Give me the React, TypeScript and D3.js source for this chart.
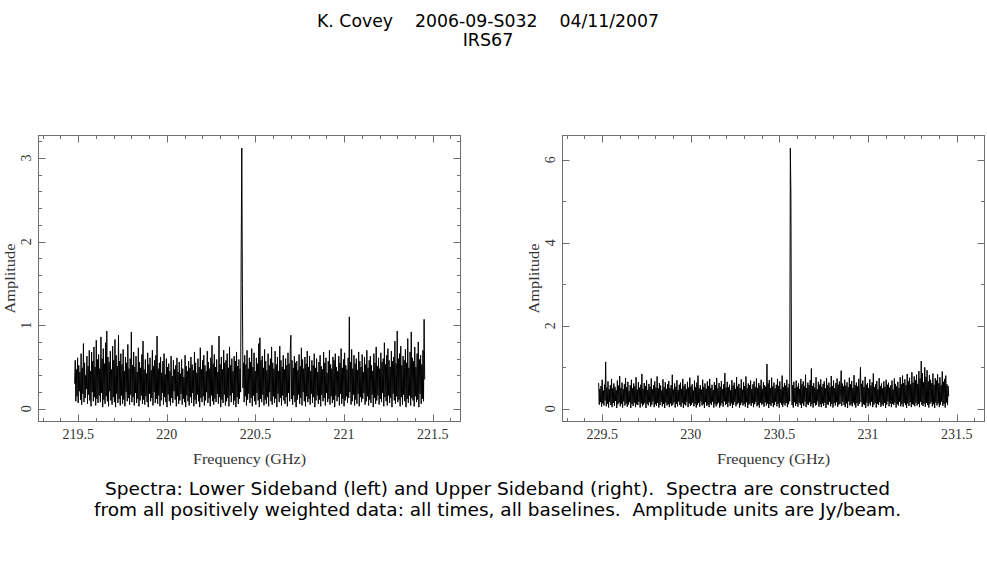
import React from 'react';
import * as d3 from 'd3';

// Amplitudes in hundredths of Jy/beam, one per channel, low to high frequency
const lsbAmp = [
  30, 58, 9, 47, 15, 61, 7, 52, 21, 44, 11, 66, 5, 49, 18, 78, 8, 55, 13, 40,
  24, 63, 6, 51, 17, 70, 10, 45, 3, 68, 20, 57, 9, 74, 14, 50, 4, 82, 12, 59,
  7, 65, 16, 48, 8, 86, 19, 60, 2, 72, 11, 54, 6, 79, 15, 93, 9, 62, 3, 56,
  21, 69, 10, 47, 5, 75, 14, 58, 8, 83, 2, 64, 18, 51, 7, 88, 12, 57, 4, 66,
  16, 53, 6, 71, 11, 45, 3, 62, 20, 55, 9, 77, 13, 48, 5, 60, 17, 92, 8, 52,
  14, 68, 4, 50, 19, 63, 7, 44, 12, 73, 3, 56, 10, 49, 16, 65, 6, 81, 11, 47,
  5, 59, 15, 42, 8, 67, 2, 53, 18, 61, 9, 46, 13, 70, 4, 51, 20, 58, 7, 64,
  12, 87, 6, 48, 16, 55, 3, 62, 10, 43, 19, 57, 5, 66, 14, 41, 8, 60, 2, 50,
  17, 54, 9, 45, 4, 63, 13, 39, 7, 58, 21, 47, 11, 52, 3, 61, 15, 44, 6, 56,
  10, 42, 18, 59, 5, 48, 12, 38, 8, 64, 2, 51, 16, 45, 9, 57, 4, 49, 14, 62,
  7, 53, 19, 46, 3, 68, 11, 55, 6, 43, 17, 60, 9, 50, 2, 73, 13, 47, 8, 58,
  15, 64, 4, 52, 10, 45, 20, 69, 7, 56, 13, 48, 3, 61, 16, 76, 9, 54, 5, 65,
  12, 50, 8, 59, 18, 44, 6, 87, 14, 53, 2, 62, 11, 47, 7, 70, 17, 55, 4, 58,
  9, 66, 13, 49, 3, 74, 16, 52, 8, 60, 19, 45, 5, 63, 10, 57, 2, 68, 14, 51,
  6, 59, 12, 48, 20, 192, 312, 149, 25, 55, 8, 64, 15, 53, 4, 70, 11, 48, 18, 61,
  7, 56, 13, 72, 3, 50, 16, 67, 9, 45, 5, 61, 19, 54, 10, 78, 2, 85, 12, 58,
  8, 63, 17, 49, 4, 71, 11, 57, 6, 46, 14, 66, 3, 52, 20, 60, 9, 74, 5, 55,
  15, 48, 7, 69, 12, 53, 2, 62, 18, 45, 8, 75, 13, 58, 4, 50, 16, 64, 10, 47,
  6, 60, 14, 52, 3, 67, 19, 54, 9, 71, 88, 12, 58, 5, 49, 16, 63, 8, 55, 2,
  57, 11, 46, 17, 65, 6, 51, 13, 73, 4, 59, 20, 48, 9, 62, 3, 54, 15, 69, 8,
  50, 12, 63, 5, 45, 18, 58, 7, 52, 14, 66, 2, 49, 10, 60, 16, 44, 6, 56, 11,
  64, 3, 51, 17, 47, 9, 68, 13, 55, 4, 61, 19, 43, 8, 57, 12, 70, 5, 53, 15,
  48, 7, 62, 11, 58, 2, 66, 16, 50, 9, 45, 14, 63, 4, 55, 18, 72, 6, 49, 12,
  59, 3, 67, 10, 52, 15, 47, 7, 61, 13, 110, 20, 56, 5, 71, 9, 48, 17, 64, 4,
  54, 11, 60, 6, 46, 18, 68, 3, 57, 14, 50, 8, 65, 12, 44, 19, 62, 5, 53, 9,
  70, 15, 49, 4, 58, 11, 63, 7, 52, 17, 45, 2, 66, 13, 55, 6, 74, 10, 51, 16,
  61, 5, 48, 12, 67, 8, 56, 19, 60, 3, 79, 14, 53, 9, 64, 4, 72, 16, 58, 7,
  50, 13, 69, 2, 57, 18, 62, 10, 81, 6, 54, 15, 93, 8, 60, 11, 66, 3, 75, 14,
  52, 5, 63, 17, 58, 9, 71, 2, 55, 12, 84, 7, 49, 16, 68, 4, 92, 13, 61, 10,
  57, 3, 74, 15, 50, 8, 66, 11, 80, 2, 59, 18, 64, 6, 53, 12, 70, 9, 107, 35,
];

const usbAmp = [
  62, 10, 48, 16, 55, 5, 70, 13, 44, 8, 58, 20, 113, 6, 51, 12, 66, 3, 47, 17,
  57, 9, 72, 4, 49, 14, 61, 7, 53, 19, 45, 2, 68, 11, 56, 15, 79, 6, 50, 12,
  63, 3, 47, 18, 59, 8, 74, 13, 52, 5, 65, 10, 43, 16, 57, 2, 70, 12, 49, 7,
  61, 15, 54, 4, 76, 11, 46, 9, 64, 17, 51, 3, 58, 13, 84, 6, 48, 10, 62, 14,
  55, 2, 69, 12, 45, 8, 60, 16, 53, 5, 73, 10, 47, 18, 57, 4, 66, 11, 51, 7,
  78, 14, 49, 3, 62, 9, 56, 17, 44, 6, 71, 12, 52, 2, 64, 15, 48, 8, 59, 11,
  67, 4, 50, 13, 57, 7, 82, 10, 46, 16, 61, 3, 53, 12, 69, 6, 45, 18, 58, 9,
  63, 5, 48, 14, 72, 2, 55, 11, 60, 8, 47, 17, 65, 4, 51, 13, 75, 7, 54, 10,
  59, 15, 44, 6, 68, 12, 52, 3, 63, 9, 80, 14, 49, 5, 57, 18, 46, 8, 70, 11,
  53, 2, 61, 16, 48, 7, 66, 10, 55, 4, 72, 13, 50, 9, 58, 17, 45, 3, 64, 12,
  57, 6, 74, 11, 49, 15, 62, 3, 53, 8, 67, 14, 47, 5, 59, 18, 86, 9, 51, 12,
  65, 4, 52, 16, 58, 7, 45, 13, 69, 2, 56, 10, 63, 17, 48, 6, 76, 11, 54, 14,
  60, 3, 50, 9, 71, 15, 46, 8, 64, 12, 55, 5, 78, 16, 49, 2, 61, 10, 57, 13,
  68, 7, 47, 14, 59, 4, 66, 11, 52, 17, 73, 6, 50, 9, 62, 3, 56, 15, 70, 10,
  48, 12, 64, 5, 57, 16, 53, 8, 108, 13, 61, 2, 69, 11, 50, 7, 75, 14, 54, 4,
  63, 9, 49, 17, 58, 6, 72, 12, 55, 3, 66, 15, 47, 10, 80, 5, 52, 13, 62, 8,
  56, 14, 70, 4, 51, 11, 60, 18, 628, 512, 74, 9, 57, 3, 65, 16, 50, 7, 68, 12,
  53, 5, 61, 15, 48, 10, 72, 2, 59, 13, 66, 7, 54, 17, 82, 4, 50, 11, 63, 9,
  57, 16, 69, 6, 97, 12, 55, 3, 62, 14, 51, 8, 76, 10, 47, 18, 65, 5, 58, 11,
  71, 4, 53, 13, 60, 7, 66, 15, 49, 2, 74, 11, 57, 9, 63, 17, 52, 6, 79, 12,
  55, 3, 68, 14, 50, 8, 62, 16, 73, 5, 58, 10, 66, 12, 48, 92, 7, 61, 17, 54,
  9, 70, 4, 56, 13, 64, 2, 52, 18, 75, 8, 59, 11, 67, 6, 50, 15, 81, 10, 57,
  3, 63, 14, 54, 7, 72, 12, 48, 100, 16, 60, 5, 68, 11, 53, 9, 77, 2, 58, 15,
  62, 6, 50, 13, 71, 8, 56, 17, 64, 4, 85, 10, 52, 14, 59, 3, 67, 12, 47, 9,
  74, 16, 55, 5, 61, 11, 49, 7, 66, 14, 53, 2, 70, 10, 58, 18, 63, 6, 51, 13,
  57, 4, 68, 12, 46, 9, 73, 15, 60, 3, 54, 11, 65, 8, 50, 17, 76, 6, 59, 12,
  80, 5, 62, 14, 71, 9, 57, 2, 84, 13, 66, 7, 75, 16, 59, 4, 88, 11, 63, 10,
  78, 6, 69, 15, 82, 8, 60, 12, 91, 4, 73, 17, 115, 10, 86, 7, 64, 13, 100, 5,
  77, 14, 93, 9, 66, 3, 81, 12, 70, 16, 62, 6, 85, 11, 58, 2, 74, 15, 68, 8,
  83, 13, 61, 4, 76, 10, 57, 17, 90, 7, 65, 12, 72, 3, 80, 15, 59, 9, 55, 30,
];

// first / last channel frequency (GHz)
const lsbBand = [219.48, 221.455];
const usbBand = [229.48, 231.455];

const titleLines = ['K. Covey    2006-09-S032    04/11/2007', 'IRS67'];
const captionLines = [
  'Spectra: Lower Sideband (left) and Upper Sideband (right).  Spectra are constructed',
  'from all positively weighted data: all times, all baselines.  Amplitude units are Jy/beam.',
];

const W = 987;
const H = 567;

interface PanelProps {
  amp: number[];
  band: number[];
  xDomain: [number, number];
  yDomain: [number, number];
  left: number;
  yMajor: number;
  yMinor: number;
}

const frame = { width: 422, top: 135.5, bottom: 421.5 };
const axisColor = '#6e6e6e';
const labelFont = '"Liberation Serif", "DejaVu Serif", serif';

const Panel: React.FC<PanelProps> = ({ amp, band, xDomain, yDomain, left, yMajor, yMinor }) => {
  const right = left + frame.width;
  const x = d3.scaleLinear().domain(xDomain).range([left, right]);
  const y = d3.scaleLinear().domain(yDomain).range([frame.bottom, frame.top]);

  const n = amp.length;
  const pts = amp.map((a, i) => [band[0] + (i * (band[1] - band[0])) / (n - 1), a / 100] as [number, number]);
  const line = d3.line<[number, number]>().x(d => x(d[0])).y(d => y(d[1]));

  const xMaj = x.ticks(5);
  const xMin = x.ticks(20);
  const yMaj = y.ticks(yMajor);
  const yMin = y.ticks(yMinor);
  const fmt = (v: number) => String(+v.toFixed(1));

  const big = 7;
  const small = 3.5;

  return (
    <g>
      <path d={line(pts) || ''} fill="none" stroke="#000" strokeWidth={1} strokeLinejoin="miter" />
      <rect x={left} y={frame.top} width={frame.width} height={frame.bottom - frame.top}
        fill="none" stroke={axisColor} strokeWidth={1} />
      {xMin.map(t => {
        const len = xMaj.some(m => Math.abs(m - t) < 1e-6) ? big : small;
        const px = Math.round(x(t)) + 0.5;
        return (
          <g key={'xt' + t} stroke={axisColor} strokeWidth={1}>
            <line x1={px} x2={px} y1={frame.bottom} y2={frame.bottom - len} />
            <line x1={px} x2={px} y1={frame.top} y2={frame.top + len} />
          </g>
        );
      })}
      {yMin.map(t => {
        const len = yMaj.some(m => Math.abs(m - t) < 1e-6) ? big : small;
        const py = Math.round(y(t)) + 0.5;
        return (
          <g key={'yt' + t} stroke={axisColor} strokeWidth={1}>
            <line x1={left} x2={left + len} y1={py} y2={py} />
            <line x1={right} x2={right - len} y1={py} y2={py} />
          </g>
        );
      })}
      {xMaj.map(t => (
        <text key={'xl' + t} x={x(t)} y={439} textAnchor="middle" fontFamily={labelFont}
          fontSize={14} fill="#333">{fmt(t)}</text>
      ))}
      {yMaj.map(t => (
        <text key={'yl' + t} transform={`translate(${left - 8},${y(t)}) rotate(-90)`} textAnchor="middle"
          fontFamily={labelFont} fontSize={14} fill="#333">{fmt(t)}</text>
      ))}
      <text x={(left + right) / 2} y={464} textAnchor="middle" fontFamily={labelFont} fontSize={14}
        fill="#333" textLength={113} lengthAdjust="spacingAndGlyphs">Frequency (GHz)</text>
      <text transform={`translate(${left - 24},${(frame.top + frame.bottom) / 2}) rotate(-90)`}
        textAnchor="middle" fontFamily={labelFont} fontSize={14} fill="#333"
        textLength={70} lengthAdjust="spacingAndGlyphs">Amplitude</text>
    </g>
  );
};

export default function App() {
  const sans = '"DejaVu Sans", Verdana, sans-serif';
  return (
    <svg width={W} height={H} viewBox={`0 0 ${W} ${H}`}
      style={{ position: 'absolute', left: 0, top: 0, background: '#fff', display: 'block' }}>
      <rect width={W} height={H} fill="#fff" />
      <text x={488} y={26.5} textAnchor="middle" fontFamily={sans} fontSize={17.5} fill="#000"
        style={{ whiteSpace: 'pre' }} textLength={342} lengthAdjust="spacingAndGlyphs">{titleLines[0]}</text>
      <text x={488} y={46} textAnchor="middle" fontFamily={sans} fontSize={17.5} fill="#000">{titleLines[1]}</text>
      <Panel amp={lsbAmp} band={lsbBand} xDomain={[219.276, 221.657]} yDomain={[-0.152, 3.27]}
        left={38.5} yMajor={4} yMinor={15} />
      <Panel amp={usbAmp} band={usbBand} xDomain={[229.276, 231.657]} yDomain={[-0.306, 6.585]}
        left={562.5} yMajor={3} yMinor={7} />
      {captionLines.map((t, i) => (
        <text key={t} x={497.5} y={495 + i * 21} textAnchor="middle" fontFamily={sans} fontSize={18}
          fill="#000" style={{ whiteSpace: 'pre' }}
          textLength={i === 0 ? 785 : 807} lengthAdjust="spacingAndGlyphs">{t}</text>
      ))}
    </svg>
  );
}
